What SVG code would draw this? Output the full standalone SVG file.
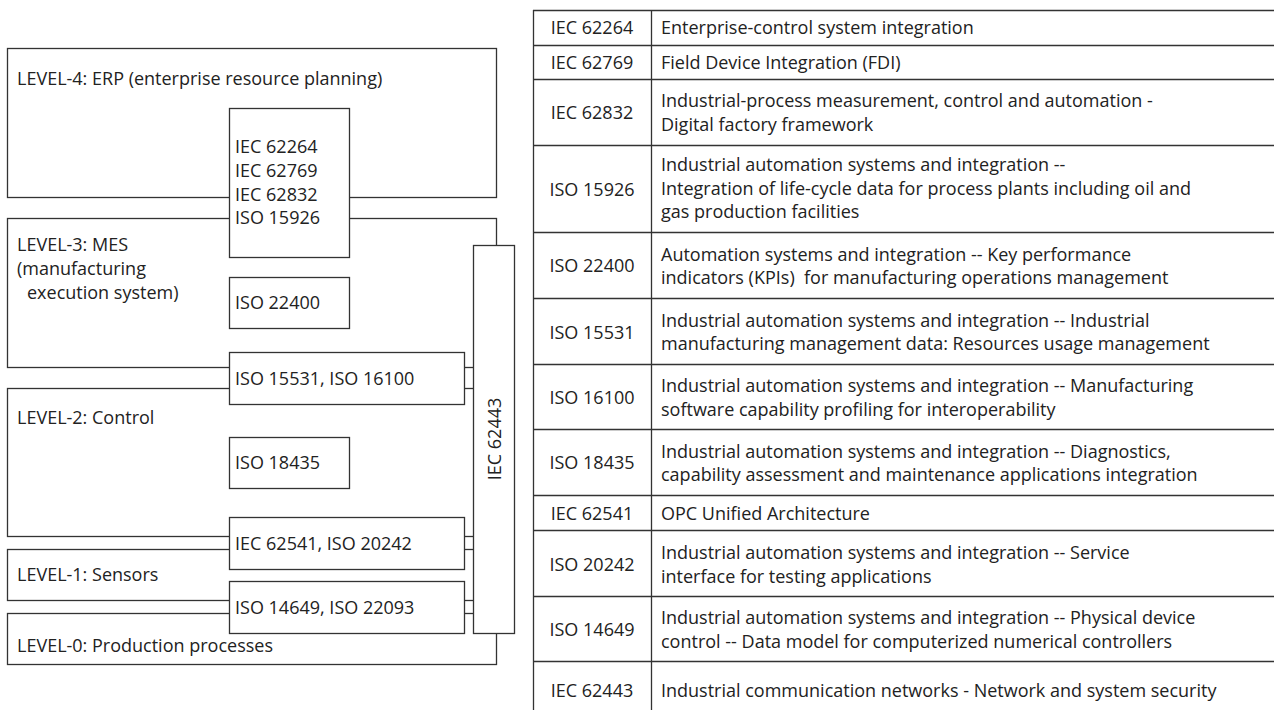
<svg xmlns="http://www.w3.org/2000/svg" width="1274" height="718" viewBox="0 0 1274 718">
  <style>
    text { font-family: "Open Sans", "Noto Sans", "Liberation Sans", sans-serif; font-size: 18px; fill: #222; }
    .box { fill: #fff; stroke: #333; stroke-width: 1.3; }
    .rule { stroke: #333; stroke-width: 1.3; fill: none; }
    .code { text-anchor: middle; }
  </style>

  <!-- Automation levels (drawn first, standards boxes sit on top) -->
  <g id="level-4">
    <rect class="box" x="7.5" y="48.5" width="489" height="149"/>
    <text x="17" y="85">LEVEL-4: ERP (enterprise resource planning)</text>
  </g>
  <g id="level-3">
    <rect class="box" x="7.5" y="218.5" width="489" height="149"/>
    <text x="17" y="251">LEVEL-3: MES</text>
    <text x="17" y="275">(manufacturing</text>
    <text x="27" y="299">execution system)</text>
  </g>
  <g id="level-2">
    <rect class="box" x="7.5" y="388.5" width="489" height="148"/>
    <text x="17" y="424">LEVEL-2: Control</text>
  </g>
  <g id="level-1">
    <rect class="box" x="7.5" y="549.5" width="489" height="51"/>
    <text x="17" y="581">LEVEL-1: Sensors</text>
  </g>
  <g id="level-0">
    <rect class="box" x="7.5" y="613.5" width="489" height="51"/>
    <text x="17" y="652">LEVEL-0: Production processes</text>
  </g>

  <!-- Standards placed on the levels -->
  <g id="std-erp-mes">
    <rect class="box" x="229.5" y="108.5" width="120" height="149"/>
    <text x="235" y="153">IEC 62264</text>
    <text x="235" y="177">IEC 62769</text>
    <text x="235" y="201">IEC 62832</text>
    <text x="235" y="224">ISO 15926</text>
  </g>
  <g id="std-22400">
    <rect class="box" x="229.5" y="277.5" width="120" height="51"/>
    <text x="235" y="309">ISO 22400</text>
  </g>
  <g id="std-15531-16100">
    <rect class="box" x="229.5" y="352.5" width="235" height="52"/>
    <text x="235" y="385">ISO 15531, ISO 16100</text>
  </g>
  <g id="std-18435">
    <rect class="box" x="229.5" y="437.5" width="120" height="51"/>
    <text x="235" y="469">ISO 18435</text>
  </g>
  <g id="std-62541-20242">
    <rect class="box" x="229.5" y="517.5" width="235" height="52"/>
    <text x="235" y="550">IEC 62541, ISO 20242</text>
  </g>
  <g id="std-14649-22093">
    <rect class="box" x="229.5" y="581.5" width="235" height="52"/>
    <text x="235" y="614">ISO 14649, ISO 22093</text>
  </g>
  <g id="std-62443">
    <rect class="box" x="473.5" y="245.5" width="41" height="388"/>
    <text class="code" transform="translate(501 439) rotate(-90)">IEC 62443</text>
  </g>

  <!-- Connectors: none beyond the level edges that run between the boxes -->
  <g id="connectors"></g>

  <!-- Reference table of standards -->
  <g id="table">
    <g class="rule">
      <line x1="533.5" y1="10" x2="533.5" y2="710"/>
      <line x1="651.5" y1="10" x2="651.5" y2="710"/>
      <line x1="533" y1="10.5" x2="1274" y2="10.5"/>
      <line x1="533" y1="45.5" x2="1274" y2="45.5"/>
      <line x1="533" y1="79.5" x2="1274" y2="79.5"/>
      <line x1="533" y1="145.5" x2="1274" y2="145.5"/>
      <line x1="533" y1="232.5" x2="1274" y2="232.5"/>
      <line x1="533" y1="298.5" x2="1274" y2="298.5"/>
      <line x1="533" y1="364.5" x2="1274" y2="364.5"/>
      <line x1="533" y1="429.5" x2="1274" y2="429.5"/>
      <line x1="533" y1="495.5" x2="1274" y2="495.5"/>
      <line x1="533" y1="530.5" x2="1274" y2="530.5"/>
      <line x1="533" y1="596.5" x2="1274" y2="596.5"/>
      <line x1="533" y1="661.5" x2="1274" y2="661.5"/>
    </g>

    <text class="code" x="592" y="34">IEC 62264</text>
    <text x="661" y="34">Enterprise-control system integration</text>

    <text class="code" x="592" y="69">IEC 62769</text>
    <text x="661" y="69">Field Device Integration (FDI)</text>

    <text class="code" x="592" y="119">IEC 62832</text>
    <text x="661" y="107">Industrial-process measurement, control and automation -</text>
    <text x="661" y="131">Digital factory framework</text>

    <text class="code" x="592" y="196">ISO 15926</text>
    <text x="661" y="171">Industrial automation systems and integration --</text>
    <text x="661" y="195">Integration of life-cycle data for process plants including oil and</text>
    <text x="661" y="218">gas production facilities</text>

    <text class="code" x="592" y="272">ISO 22400</text>
    <text x="661" y="261">Automation systems and integration -- Key performance</text>
    <text x="661" y="284" xml:space="preserve">indicators (KPIs)  for manufacturing operations management</text>

    <text class="code" x="592" y="339">ISO 15531</text>
    <text x="661" y="327">Industrial automation systems and integration -- Industrial</text>
    <text x="661" y="350">manufacturing management data: Resources usage management</text>

    <text class="code" x="592" y="404">ISO 16100</text>
    <text x="661" y="392">Industrial automation systems and integration -- Manufacturing</text>
    <text x="661" y="416">software capability profiling for interoperability</text>

    <text class="code" x="592" y="469">ISO 18435</text>
    <text x="661" y="458">Industrial automation systems and integration -- Diagnostics,</text>
    <text x="661" y="481">capability assessment and maintenance applications integration</text>

    <text class="code" x="592" y="520">IEC 62541</text>
    <text x="661" y="520">OPC Unified Architecture</text>

    <text class="code" x="592" y="571">ISO 20242</text>
    <text x="661" y="559">Industrial automation systems and integration -- Service</text>
    <text x="661" y="583">interface for testing applications</text>

    <text class="code" x="592" y="636">ISO 14649</text>
    <text x="661" y="624">Industrial automation systems and integration -- Physical device</text>
    <text x="661" y="648">control -- Data model for computerized numerical controllers</text>

    <text class="code" x="592" y="697">IEC 62443</text>
    <text x="661" y="697">Industrial communication networks - Network and system security</text>
  </g>
</svg>
